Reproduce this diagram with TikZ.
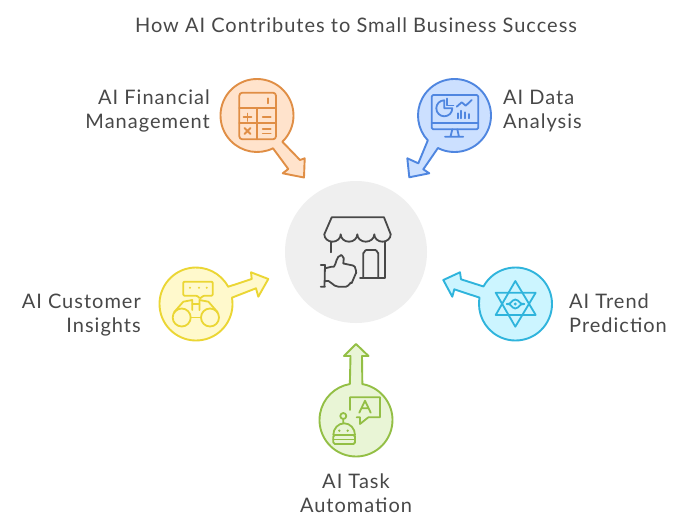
\documentclass[tikz,border=0pt]{standalone}
\usepackage{fontspec}
\setmainfont[LetterSpace=5]{Lato}
\definecolor{orS}{HTML}{E08E45}\definecolor{orF}{HTML}{FFE3CC}
\definecolor{blS}{HTML}{4F86E0}\definecolor{blF}{HTML}{CCE0FF}
\definecolor{yeS}{HTML}{EBD634}\definecolor{yeF}{HTML}{FFF9CC}
\definecolor{cyS}{HTML}{2FB4DC}\definecolor{cyF}{HTML}{CCF5FF}
\definecolor{grS}{HTML}{93BF45}\definecolor{grF}{HTML}{E9F5D6}
\definecolor{hubF}{HTML}{EFEFEF}\definecolor{hubS}{HTML}{484848}
\definecolor{txt}{HTML}{484848}
\tikzset{
  petal/.style={line width=1.9pt,line join=round},
  icon/.style={line width=1.8pt,line join=round,line cap=round},
  lab/.style={font=\fontsize{20}{24}\selectfont,text=txt,inner sep=0pt},
}
\begin{document}
\begin{tikzpicture}[x=1pt,y=-1pt]
\useasboundingbox (0,0) rectangle (686,528);
\fill[white] (0,0) rectangle (686,528);
\node[lab,anchor=base] (title) at (356,32) {How AI Contributes to Small Business Success};
% hub
\fill[hubF] (356,252) circle[radius=71];
% store + thumb
\begin{scope}[icon,draw=hubS]
\draw (324.3,234.3) -- (331.7,217.3) -- (384,217.3) -- (390.7,234.3)
  arc[start angle=0,end angle=180,x radius=8.2,y radius=7.4] arc[start angle=0,end angle=180,x radius=8.5,y radius=7.4]
  arc[start angle=0,end angle=180,x radius=8.3,y radius=7.4] arc[start angle=0,end angle=180,x radius=8.2,y radius=7.4] -- cycle;
\draw (330.7,241.7) -- (330.7,252.3);
\draw (360,277.7) -- (385,277.7) -- (385,241.7);
\draw (363.3,277.7) -- (363.3,253) to[out=-90,in=180] (366.3,250) -- (375.3,250) to[out=0,in=-90] (378.3,253) -- (378.3,277.7);
\draw (320.7,265) -- (325,265) -- (324.5,286.7) (320.7,286.7) -- (325,286.7);
\draw (325,268.3) -- (331.7,266.7) to[out=-30,in=-130] (338.3,256.7) to[out=-50,in=180] (341,255) to[out=0,in=-90] (343.8,258) -- (343.3,263.5) -- (353,265.5) to[out=10,in=-80] (356,273) -- (351.7,283) to[out=100,in=0] (346,286.7) -- (338.3,286.7) to[out=180,in=20] (325,281);
\end{scope}
% orange
\draw[petal,draw=orS,fill=orF] (257,115.5) ++(46:36.5) arc[start angle=46,end angle=-296,radius=36.5]
  -- (288.3,169) -- (282.7,173.3) -- (304,177.5) -- (304.7,158.3) -- (300,160) -- cycle;
\begin{scope}[icon,draw=orS]
\draw[rounded corners=3pt] (239.3,92.7) rectangle (276,139.3);
\draw (239.3,108.3) -- (276,108.3) (239.3,123.3) -- (276,123.3) (257.3,108.3) -- (257.3,139.3);
\draw (267.7,98.3) -- (267.7,103.3);
\draw (243.5,117.3) -- (251.5,117.3) (247.5,113.5) -- (247.5,121);
\draw (262.7,117.3) -- (270.7,117.3);
\draw (244.5,128) -- (250.5,134) (250.5,128) -- (244.5,134);
\draw (262.7,129) -- (270.7,129) (262.7,133.5) -- (270.7,133.5);
\end{scope}
% blue
\draw[petal,draw=blS,fill=blF] (454.5,115.5) ++(117:36.5) arc[start angle=117,end angle=-223,radius=36.5]
  -- (418.3,163.3) -- (407.3,158.3) -- (409.3,177.3) -- (429.3,173.3) -- (423.3,169.3) -- cycle;
\begin{scope}[icon,draw=blS]
\draw[rounded corners=1.5pt] (431.7,95) rectangle (478.3,129.3);
\draw (431.7,123.3) -- (478.3,123.3);
\draw (452.3,129.3) -- (450.5,136.7) (457.3,129.3) -- (459,136.7) (445,136.7) -- (463.3,136.7);
\draw (444.3,100.3) arc[start angle=-90,end angle=-360,radius=8] -- (444.3,108.3) -- cycle;
\draw (447,98.5) -- (447,105.5) -- (453.5,105.5);
\draw (456.7,106.7) -- (461.7,102.3) -- (465.7,105.7) -- (471.7,100);
\draw (457.7,118.3) -- (457.7,113.3) (461.3,118.3) -- (461.3,110.7) (465.3,118.3) -- (465.3,112.3) (469.3,118.3) -- (469.3,114);
\end{scope}
% yellow
\draw[petal,draw=yeS,fill=yeF] (196,304) ++(-10:36.5) arc[start angle=-10,end angle=331.8,radius=36.5]
  -- (251.7,279) -- (251,272.3) -- (268.3,279) -- (258.3,296.7) -- (256,288.3) -- cycle;
\begin{scope}[icon,draw=yeS]
\draw[rounded corners=1pt] (197,295.7) -- (183.3,295.7) -- (183.3,281.7) -- (212.7,281.7) -- (212.7,295.7) -- (203.5,295.7) -- (200,298.5) -- cycle;
\fill[yeS] (190,287.7) circle[radius=1.1] (199,287.7) circle[radius=1.1] (206.7,287.7) circle[radius=1.1];
\draw (181.7,317.5) circle[radius=9] (210,317.5) circle[radius=9];
\draw (190.7,317.5) -- (201,317.5);
\draw (174,312.3) -- (183.3,301.7) -- (192.3,300) -- (192.3,310);
\draw (217.7,312.3) -- (208.4,301.7) -- (199.4,300) -- (199.4,310);
\draw (192.3,304) -- (199.4,304);
\end{scope}
% cyan
\draw[petal,draw=cyS,fill=cyF] (515.5,304) ++(208.7:36.5) arc[start angle=208.7,end angle=550,radius=36.5]
  -- (454.3,289.3) -- (452.3,296.7) -- (443.3,280) -- (460,272.3) -- (461,279.3) -- cycle;
\begin{scope}[icon,draw=cyS]
\draw (515.3,281) -- (495.7,315) -- (535.7,315) -- cycle;
\draw (515.3,326.7) -- (495.7,292.7) -- (535.7,292.7) -- cycle;
\draw (506.7,304) to[out=-40,in=180] (515.3,299.5) to[out=0,in=-140] (524.3,304) to[out=140,in=0] (515.3,308.5) to[out=180,in=40] cycle;
\fill[cyS] (515.3,304) circle[radius=1.6];
\end{scope}
% green
\draw[petal,draw=grS,fill=grF] (356,420) ++(-80:36.5) arc[start angle=-80,end angle=260.3,radius=36.5]
  -- (350.5,356) -- (344,356) -- (356,344) -- (368.5,356) -- (362,356) -- cycle;
\begin{scope}[icon,draw=grS]
\draw (350,410) -- (350,397.3) -- (380,397.3) -- (380,417.3) -- (368.3,417.3) -- (360,424) -- (360,417.3) -- (356.7,417.3);
\draw (359.3,412.7) -- (365,400.7) -- (370.7,412.7) (361.3,408.3) -- (368.7,408.3);
\draw (333.3,435) arc[start angle=180,end angle=360,x radius=10.85,y radius=11.7];
\draw[rounded corners=1.5pt] (333.3,435) rectangle (355,444);
\draw (333.3,439.5) -- (355,439.5);
\draw (343.3,416) circle[radius=3] (343.3,419) -- (343.3,423.3);
\fill[grS] (339.3,430.7) circle[radius=1.3] (347.7,430.7) circle[radius=1.3];
\end{scope}
% labels
\node[lab,anchor=base east] (l1a) at (210,104) {AI Financial};
\node[lab,anchor=base east] (l1b) at (210,128) {Management};
\node[lab,anchor=base west] (l2a) at (503,104) {AI Data};
\node[lab,anchor=base west] (l2b) at (503,128) {Analysis};
\node[lab,anchor=base east] (l3a) at (141,308) {AI Customer};
\node[lab,anchor=base east] (l3b) at (141,332) {Insights};
\node[lab,anchor=base west] (l4a) at (569,308) {AI Trend};
\node[lab,anchor=base west] (l4b) at (569,332) {Prediction};
\node[lab,anchor=base] (l5a) at (356,488) {AI Task};
\node[lab,anchor=base] (l5b) at (356,512) {Automation};
\end{tikzpicture}
\end{document}
